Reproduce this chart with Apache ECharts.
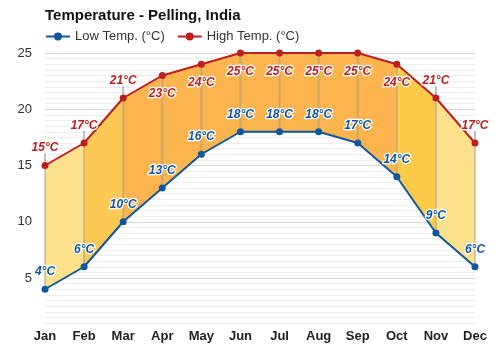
<!DOCTYPE html>
<html><head><meta charset="utf-8">
<script src="https://cdn.jsdelivr.net/npm/echarts@6/dist/echarts.min.js"></script>
<style>html,body{margin:0;padding:0;background:#fff}#c{width:500px;height:350px}</style>
</head><body><div id="c"></div>
<script>
const months = ['Jan','Feb','Mar','Apr','May','Jun','Jul','Aug','Sep','Oct','Nov','Dec'];
const lowTemps = [4,6,10,13,16,18,18,18,17,14,9,6];
const highTemps = [15,17,21,23,24,25,25,25,25,24,21,17];
const yTickLabels = [5,10,15,20,25];
const segmentColors = ['#fde08c','#fdc955','#fbb44e','#fbb44e','#fbb44e','#fbb44e','#fbb44e','#fbb44e','#fbb44e','#fdca4a','#fde08c'];
const highLabelsBelow = [3,4,5,6,7,8,9];

const FONT = "'Liberation Sans', Arial, sans-serif";
const BLUE = '#11579f', RED = '#bd1f1f';

const areaData = [];
for (let i = 0; i < months.length - 1; i++) areaData.push([i, lowTemps[i], highTemps[i], lowTemps[i+1], highTemps[i+1]]);
const stemData = months.map((m, i) => [i, lowTemps[i], highTemps[i]]);

const labelStyle = (color) => ({
  show: true, formatter: p => p.value + '°C', color: color, fontFamily: FONT,
  fontSize: 12, fontWeight: 'bold', fontStyle: 'italic', textBorderColor: '#fff', textBorderWidth: 2.5
});

const minorColors = [];
for (let i = 0; i < 10; i++) minorColors.push(i === 8 ? '#d9d9d9' : '#eeeeee');

const chart = echarts.init(document.getElementById('c'), null, {renderer: 'canvas'});
chart.setOption({
  animation: false,
  backgroundColor: '#fff',
  title: { text: 'Temperature - Pelling, India', left: 45, top: 8, padding: 0,
    textStyle: { fontFamily: FONT, fontSize: 15, fontWeight: 'bold', color: '#111' } },
  legend: { left: 45, top: 30, padding: 0, itemGap: 12, itemWidth: 24, itemHeight: 10,
    data: ['Low Temp. (°C)', 'High Temp. (°C)'],
    textStyle: { fontFamily: FONT, fontSize: 13, color: '#333' } },
  grid: { left: 45, right: 25, top: 53, bottom: 27 },
  xAxis: { type: 'category', data: months, boundaryGap: false,
    axisLine: { show: false }, axisTick: { show: false },
    axisLabel: { fontFamily: FONT, fontSize: 13, fontWeight: 'bold', color: '#222', margin: 7 } },
  yAxis: { type: 'value', min: 1, max: 25, interval: 0.5,
    axisLine: { show: false }, axisTick: { show: false },
    axisLabel: { fontFamily: FONT, fontSize: 13, color: '#333', margin: 13,
      formatter: v => yTickLabels.includes(v) ? String(v) : '' },
    splitLine: { lineStyle: { color: minorColors, width: 1 } } },
  series: [
    { type: 'custom', name: 'area', z: 1, silent: true, data: areaData,
      renderItem: (params, api) => {
        const i = api.value(0);
        const a = api.coord([i, api.value(1)]), b = api.coord([i+1, api.value(3)]);
        const c = api.coord([i+1, api.value(4)]), d = api.coord([i, api.value(2)]);
        return { type: 'polygon', shape: { points: [a, b, c, d] },
          style: { fill: segmentColors[i], stroke: segmentColors[i], lineWidth: 0.5 } };
      } },
    { type: 'custom', name: 'stems', z: 2, silent: true, data: stemData,
      renderItem: (params, api) => {
        const i = api.value(0);
        const lo = api.coord([i, api.value(1)]), hi = api.coord([i, api.value(2)]);
        const st = { stroke: 'rgba(140,140,140,0.38)', lineWidth: 2 };
        const children = [{ type: 'line', shape: { x1: lo[0], y1: lo[1], x2: hi[0], y2: hi[1] }, style: st }];
        if (!highLabelsBelow.includes(i)) children.push({ type: 'line',
          shape: { x1: hi[0], y1: hi[1], x2: hi[0], y2: hi[1] - 12 },
          style: { stroke: 'rgba(140,140,140,0.55)', lineWidth: 2 } });
        return { type: 'group', children };
      } },
    { type: 'line', name: 'Low Temp. (°C)', z: 3, data: lowTemps, color: BLUE,
      symbol: 'circle', symbolSize: 7, lineStyle: { width: 2, color: BLUE },
      itemStyle: { color: BLUE }, label: Object.assign(labelStyle(BLUE), { position: 'top', distance: 8 }) },
    { type: 'line', name: 'High Temp. (°C)', z: 4, color: RED,
      data: highTemps.map((v, i) => ({ value: v, label: highLabelsBelow.includes(i) ? { position: 'bottom', distance: 9 } : { position: 'top', distance: 8 } })),
      symbol: 'circle', symbolSize: 7, lineStyle: { width: 2, color: RED },
      itemStyle: { color: RED }, label: labelStyle(RED) }
  ]
});
</script></body></html>
